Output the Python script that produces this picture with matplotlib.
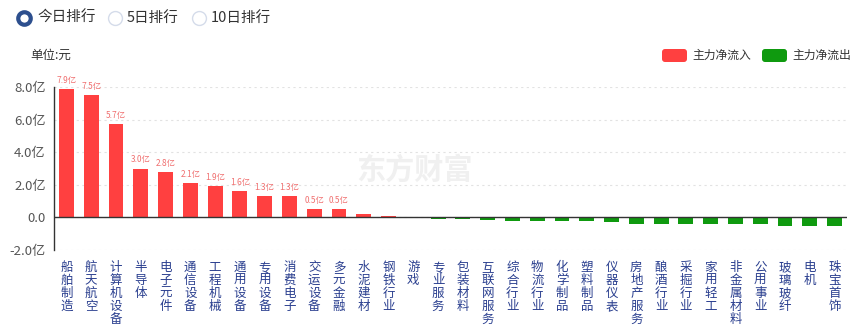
# coding: utf-8
import matplotlib
matplotlib.use('Agg')
import matplotlib.pyplot as plt
from matplotlib.patches import FancyBboxPatch
from matplotlib.lines import Line2D
from matplotlib.transforms import IdentityTransform

plt.rcParams['font.family'] = ['Noto Sans CJK SC', 'DejaVu Sans']

# 行业名称
industries = ['船舶制造', '航天航空', '计算机设备', '半导体', '电子元件', '通信设备',
              '工程机械', '通用设备', '专用设备', '消费电子', '交运设备', '多元金融',
              '水泥建材', '钢铁行业', '游戏', '专业服务', '包装材料', '互联网服务',
              '综合行业', '物流行业', '化学制品', '塑料制品', '仪器仪表', '房地产服务',
              '酿酒行业', '采掘行业', '家用轻工', '非金属材料', '公用事业', '玻璃玻纤',
              '电机', '珠宝首饰']
# 主力净流入(亿元)
net_flow = [7.9, 7.5, 5.7, 3.0, 2.8, 2.1, 1.9, 1.6, 1.3, 1.3, 0.5, 0.5,
            0.22, 0.07, 0.05, -0.1, -0.12, -0.14, -0.2, -0.2, -0.25, -0.25,
            -0.27, -0.4, -0.4, -0.41, -0.41, -0.42, -0.43, -0.52, -0.5, -0.53]
# 显示数值标签的柱
bar_labels = ['7.9亿', '7.5亿', '5.7亿', '3.0亿', '2.8亿', '2.1亿', '1.9亿',
              '1.6亿', '1.3亿', '1.3亿', '0.5亿', '0.5亿']
yticks = [-2, 0, 2, 4, 6, 8]
ytick_labels = ['-2.0亿', '0.0', '2.0亿', '4.0亿', '6.0亿', '8.0亿']

red = '#ff4040'
green = '#0f9a0f'

W, H = 864, 326
fig = plt.figure(figsize=(W / 100, H / 100), dpi=100)
ax = fig.add_axes([54 / W, 1 - 250 / H, (847 - 54) / W, (250 - 87) / H])

x = list(range(len(industries)))
colors = [red if v >= 0 else green for v in net_flow]
ax.bar(x, net_flow, width=0.6, color=colors, zorder=3)

for i, lab in enumerate(bar_labels):
    ax.text(i, net_flow[i] + 0.25, lab, ha='center', va='bottom',
            fontsize=6, color='#f07070', zorder=4)

ax.axhline(0, color='#333333', lw=1, zorder=4)
ax.set_xlim(-0.5, len(industries) - 0.5)
ax.set_ylim(-2, 8)
ax.set_yticks(yticks)
ax.set_yticklabels(ytick_labels)
ax.tick_params(axis='y', length=0, labelsize=9.5, labelcolor='#555555', pad=6)
ax.grid(axis='y', linestyle=(0, (2, 3)), color='#e2e2e2', lw=0.8, zorder=0)

ax.set_xticks(x)
ax.set_xticklabels(['\n'.join(s) for s in industries], fontsize=9,
                   color='#2a3f8f', linespacing=1.0, va='top')
ax.tick_params(axis='x', length=0, pad=8)

for s in ['top', 'right', 'bottom']:
    ax.spines[s].set_visible(False)
ax.spines['left'].set_color('#333333')
ax.spines['left'].set_linewidth(1)

# 水印
fig.text(415 / W, 1 - 170 / H, '东方财富', fontsize=21, fontweight='bold',
         color='#f0f0f0', ha='center', va='center', zorder=0)

# 顶部单选
fig.add_artist(Line2D([24 / W], [1 - 18 / H], marker='o', markersize=9,
                      markerfacecolor='white', markeredgecolor='#2d4f8e',
                      markeredgewidth=3, transform=fig.transFigure))
fig.text(37 / W, 1 - 18 / H, '今日排行', fontsize=10.5, color='#333333', va='center')
for cx, label in [(115, '5日排行'), (199, '10日排行')]:
    fig.add_artist(Line2D([cx / W], [1 - 18 / H], marker='o', markersize=10,
                          markerfacecolor='white', markeredgecolor='#d5dcea',
                          markeredgewidth=1, transform=fig.transFigure))
    fig.text((cx + 12) / W, 1 - 18 / H, label, fontsize=10.5, color='#333333', va='center')

fig.text(30 / W, 1 - 55 / H, '单位:元', fontsize=9, color='#333333', va='center')

# 图例
for lx, col, lab in [(662, red, '主力净流入'), (762, green, '主力净流出')]:
    fig.add_artist(FancyBboxPatch((lx, H - 62), 25, 13,
                                  boxstyle='round,pad=0,rounding_size=3',
                                  fc=col, ec='none', transform=IdentityTransform()))
    fig.text((lx + 30) / W, 1 - 55 / H, lab, fontsize=8.5, color='#333333', va='center')

fig.savefig('out.png', dpi=100)
